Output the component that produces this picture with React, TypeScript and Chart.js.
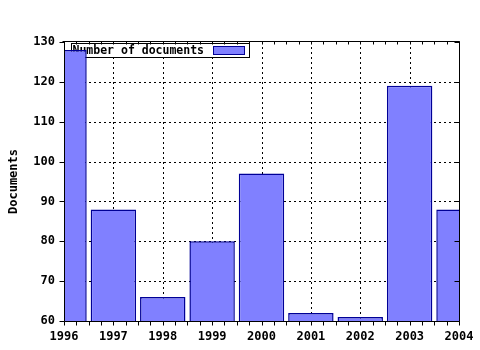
import { useEffect, useRef } from "react";
import { Chart, registerables } from "chart.js";

Chart.register(...registerables);

const years = ["1996", "1997", "1998", "1999", "2000", "2001", "2002", "2003", "2004"];
const documents = [128, 88, 66, 80, 97, 62, 61, 119, 88];
const yTicks = [60, 70, 80, 90, 100, 110, 120, 130];
const seriesLabel = "Number of documents";
const yTitle = "Documents";

const FILL = "rgb(128,128,255)";
const EDGE = "rgb(0,0,150)";
const FONT = "bold 12px 'DejaVu Sans Mono', monospace";

const framePlugin = {
  id: "frame",
  beforeDatasetsDraw(chart: any) {
    const { ctx, chartArea: a, scales } = chart;
    const x = scales.x;
    const y = scales.y;
    ctx.save();
    ctx.strokeStyle = "#000";
    ctx.lineWidth = 1;
    ctx.setLineDash([2, 3]);
    years.forEach((_, i) => {
      if (i === 0 || i === years.length - 1) return;
      const px = Math.round(x.getPixelForValue(i)) + 0.5;
      ctx.beginPath();
      ctx.moveTo(px, a.top);
      ctx.lineTo(px, a.bottom);
      ctx.stroke();
    });
    yTicks.forEach((v, i) => {
      if (i === 0 || i === yTicks.length - 1) return;
      const py = Math.round(y.getPixelForValue(v)) + 0.5;
      ctx.beginPath();
      ctx.moveTo(a.left, py);
      ctx.lineTo(a.right, py);
      ctx.stroke();
    });
    ctx.setLineDash([]);
    // legend box
    const lx = Math.round(a.left) + 7.5;
    const ly = Math.round(a.top) + 1.5;
    const lw = 178;
    const lh = 14;
    ctx.fillStyle = "#fff";
    ctx.fillRect(lx, ly, lw, lh);
    ctx.strokeRect(lx, ly, lw, lh);
    ctx.font = "bold 11.5px 'DejaVu Sans Mono', monospace";
    ctx.fillStyle = "#000";
    ctx.textBaseline = "middle";
    ctx.textAlign = "left";
    ctx.fillText(seriesLabel, lx + 1, ly + lh / 2 + 0.5);
    ctx.fillStyle = FILL;
    ctx.fillRect(lx + 142, ly + 3, 31, 8);
    ctx.strokeStyle = EDGE;
    ctx.strokeRect(lx + 142, ly + 3, 31, 8);
    ctx.restore();
  },
  afterDatasetsDraw(chart: any) {
    const { ctx, chartArea: a, scales } = chart;
    const x = scales.x;
    const y = scales.y;
    ctx.save();
    ctx.strokeStyle = "#000";
    ctx.lineWidth = 1;
    const L = Math.round(a.left) + 0.5;
    const R = Math.round(a.right) + 0.5;
    const T = Math.round(a.top) - 0.5;
    const B = Math.round(a.bottom) + 0.5;
    ctx.beginPath();
    ctx.moveTo(L - 2, T);
    ctx.lineTo(R, T);
    ctx.lineTo(R, B);
    ctx.lineTo(L, B);
    ctx.lineTo(L, T);
    ctx.stroke();
    // x ticks (major + minor)
    for (let i = 0; i < years.length; i++) {
      const p0 = x.getPixelForValue(i);
      const p1 = i < years.length - 1 ? x.getPixelForValue(i + 1) : p0;
      const n = i < years.length - 1 ? 4 : 1;
      for (let k = 0; k < n; k++) {
        const px = Math.round(p0 + ((p1 - p0) * k) / 4) + 0.5;
        ctx.beginPath();
        ctx.moveTo(px, B);
        ctx.lineTo(px, B + 4);
        ctx.moveTo(px, T);
        ctx.lineTo(px, T + 3);
        ctx.stroke();
      }
    }
    yTicks.forEach((v) => {
      const py = Math.round(y.getPixelForValue(v)) + 0.5;
      ctx.beginPath();
      ctx.moveTo(L - 5, py);
      ctx.lineTo(L, py);
      ctx.moveTo(R - 5, py);
      ctx.lineTo(R, py);
      ctx.stroke();
    });
    // y title
    ctx.font = FONT;
    ctx.fillStyle = "#000";
    ctx.textAlign = "center";
    ctx.textBaseline = "middle";
    ctx.translate(14, (a.top + a.bottom) / 2);
    ctx.rotate(-Math.PI / 2);
    ctx.fillText(yTitle, 0, 0);
    ctx.restore();
  },
};

export default function App() {
  const ref = useRef<HTMLCanvasElement | null>(null);
  useEffect(() => {
    if (!ref.current) return;
    const chart = new Chart(ref.current, {
      type: "bar",
      data: {
        labels: years,
        datasets: [
          {
            label: seriesLabel,
            data: documents,
            backgroundColor: FILL,
            borderColor: EDGE,
            borderWidth: 1.5,
            borderSkipped: false,
            categoryPercentage: 1,
            barPercentage: 0.92,
            clip: 0,
          } as any,
        ],
      },
      options: {
        animation: false,
        responsive: false,
        layout: { padding: { left: 0, top: 42, right: 21, bottom: 0 } },
        plugins: { legend: { display: false }, tooltip: { enabled: false } },
        scales: {
          x: {
            offset: false,
            grid: { display: false, offset: false },
            border: { display: false },
            ticks: {
              color: "#000",
              font: { family: "'DejaVu Sans Mono', monospace", size: 12, weight: "bold" },
              padding: 1,
              maxRotation: 0,
              autoSkip: false,
            },
            afterFit: (s: any) => {
              s.height = 29;
            },
          },
          y: {
            min: 60,
            max: 130,
            grid: { display: false },
            border: { display: false },
            ticks: {
              stepSize: 10,
              color: "#000",
              font: { family: "'DejaVu Sans Mono', monospace", size: 12, weight: "bold" },
              padding: 1,
            },
            afterFit: (s: any) => {
              s.width = 64;
            },
          },
        },
      },
      plugins: [framePlugin],
    });
    return () => chart.destroy();
  }, []);
  return (
    <div style={{ position: "absolute", left: 0, top: 0, width: 480, height: 350, background: "#fff" }}>
      <canvas ref={ref} width={480} height={350} style={{ display: "block" }} />
    </div>
  );
}
